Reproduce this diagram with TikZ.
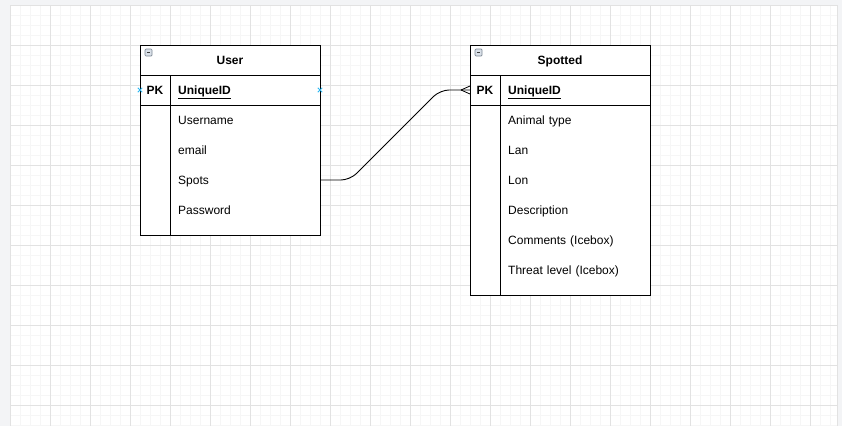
\documentclass[tikz,border=0pt]{standalone}
\usepackage{fontspec}
\setmainfont{Liberation Sans}
\usetikzlibrary{calc}
\definecolor{outside}{HTML}{F3F4F6}
\definecolor{minorgrid}{HTML}{F6F6F6}
\definecolor{majorgrid}{HTML}{E2E2E2}
\definecolor{marker}{HTML}{29B6F2}
\definecolor{icon}{HTML}{7D8894}
\definecolor{iconfill}{HTML}{D9E0E8}
\tikzset{
  entity/.style={draw=black, line width=0.9pt, fill=white},
  sep/.style={draw=black, line width=0.9pt},
  title/.style={font=\bfseries\fontsize{12}{14}\selectfont, inner sep=0pt, text height=10pt, text depth=2pt},
  pk/.style={font=\bfseries\fontsize{12}{14}\selectfont, inner sep=0pt, text height=10pt, text depth=2pt},
  row/.style={font=\fontsize{12}{14}\selectfont, minimum width=150pt, text width=134pt, inner xsep=8pt, inner ysep=0pt, text height=10pt, text depth=2pt, minimum height=30pt, align=left, anchor=west},
  keyrow/.style={row, font=\bfseries\fontsize{12}{14}\selectfont},
  conn/.style={draw=black, line width=0.9pt, rounded corners=9pt},
  crow/.style={draw=black, line width=0.8pt},
  hover/.style={draw=marker, line width=0.9pt},
  collapse/.style={draw=icon, fill=iconfill, line width=0.7pt, rounded corners=1pt}
}
\begin{document}
\begin{tikzpicture}[x=1pt,y=-1pt]
\useasboundingbox (0,0) rectangle (842,426);
% background
\fill[outside] (0,0) rectangle (842,426);
\fill[white] (10,5) rectangle (837,426);
\begin{scope}
\clip (10,5) rectangle (837,426);
\foreach \x in {20,30,...,830} \draw[minorgrid, line width=0.8pt] (\x,5) -- (\x,426);
\foreach \y in {15,25,...,425} \draw[minorgrid, line width=0.8pt] (10,\y) -- (837,\y);
\foreach \x in {50,90,...,830} \draw[majorgrid, line width=0.8pt] (\x,5) -- (\x,426);
\foreach \y in {45,85,...,425} \draw[majorgrid, line width=0.8pt] (10,\y) -- (837,\y);
\end{scope}
\draw[majorgrid, line width=0.8pt] (10,5) -- (837,5);
\draw[majorgrid, line width=0.8pt] (10,5) -- (10,426);
\draw[majorgrid, line width=0.8pt] (837,5) -- (837,426);

% ---- User entity
\node[entity, minimum width=180pt, minimum height=190pt, anchor=north west, inner sep=0pt] (user) at (140,45) {};
\draw[sep] (140,75) -- (320,75);
\draw[sep] (140,105) -- (320,105);
\draw[sep] (170,75) -- (170,235);
\node[title] (userTitle) at (230,60) {User};
\draw[collapse] (145,49) rectangle (152,56);
\draw[black!75, line width=1pt] (146.8,52.5) -- (150.2,52.5);
\node[pk] (userPK) at (155,90) {PK};
\node[keyrow] (uID) at (170,90) {\underline{UniqueID}};
\node[row] (uUser) at (170,120) {Username};
\node[row] (uMail) at (170,150) {email};
\node[row] (uSpots) at (170,180) {Spots};
\node[row] (uPass) at (170,210) {Password};
% hover markers
\draw[hover] (137.8,87.8) -- (142.2,92.2) (137.8,92.2) -- (142.2,87.8);
\draw[hover] (317.8,87.8) -- (322.2,92.2) (317.8,92.2) -- (322.2,87.8);

% ---- Spotted entity
\node[entity, minimum width=180pt, minimum height=250pt, anchor=north west, inner sep=0pt] (spotted) at (470,45) {};
\draw[sep] (470,75) -- (650,75);
\draw[sep] (470,105) -- (650,105);
\draw[sep] (500,75) -- (500,295);
\node[title] (spTitle) at (560,60) {Spotted};
\draw[collapse] (475,49) rectangle (482,56);
\draw[black!75, line width=1pt] (476.8,52.5) -- (480.2,52.5);
\node[pk] (spPK) at (485,90) {PK};
\node[keyrow] (sID) at (500,90) {\underline{UniqueID}};
\node[row] (sAnimal) at (500,120) {Animal type};
\node[row] (sLan) at (500,150) {Lan};
\node[row] (sLon) at (500,180) {Lon};
\node[row] (sDesc) at (500,210) {Description};
\node[row] (sComm) at (500,240) {Comments (Icebox)};
\node[row] (sThreat) at (500,270) {Threat level (Icebox)};

% ---- connector
\coordinate (tgt) at (spotted.west |- sID);
\coordinate (fork) at ($(tgt)+(-9,0)$);
\draw[conn] (uSpots.east) -- (350,180) -- (440,90) -- (tgt);
\draw[crow] (fork) -- ($(tgt)+(0,-4)$);
\draw[crow] (fork) -- ($(tgt)+(0,4)$);
\end{tikzpicture}
\end{document}
